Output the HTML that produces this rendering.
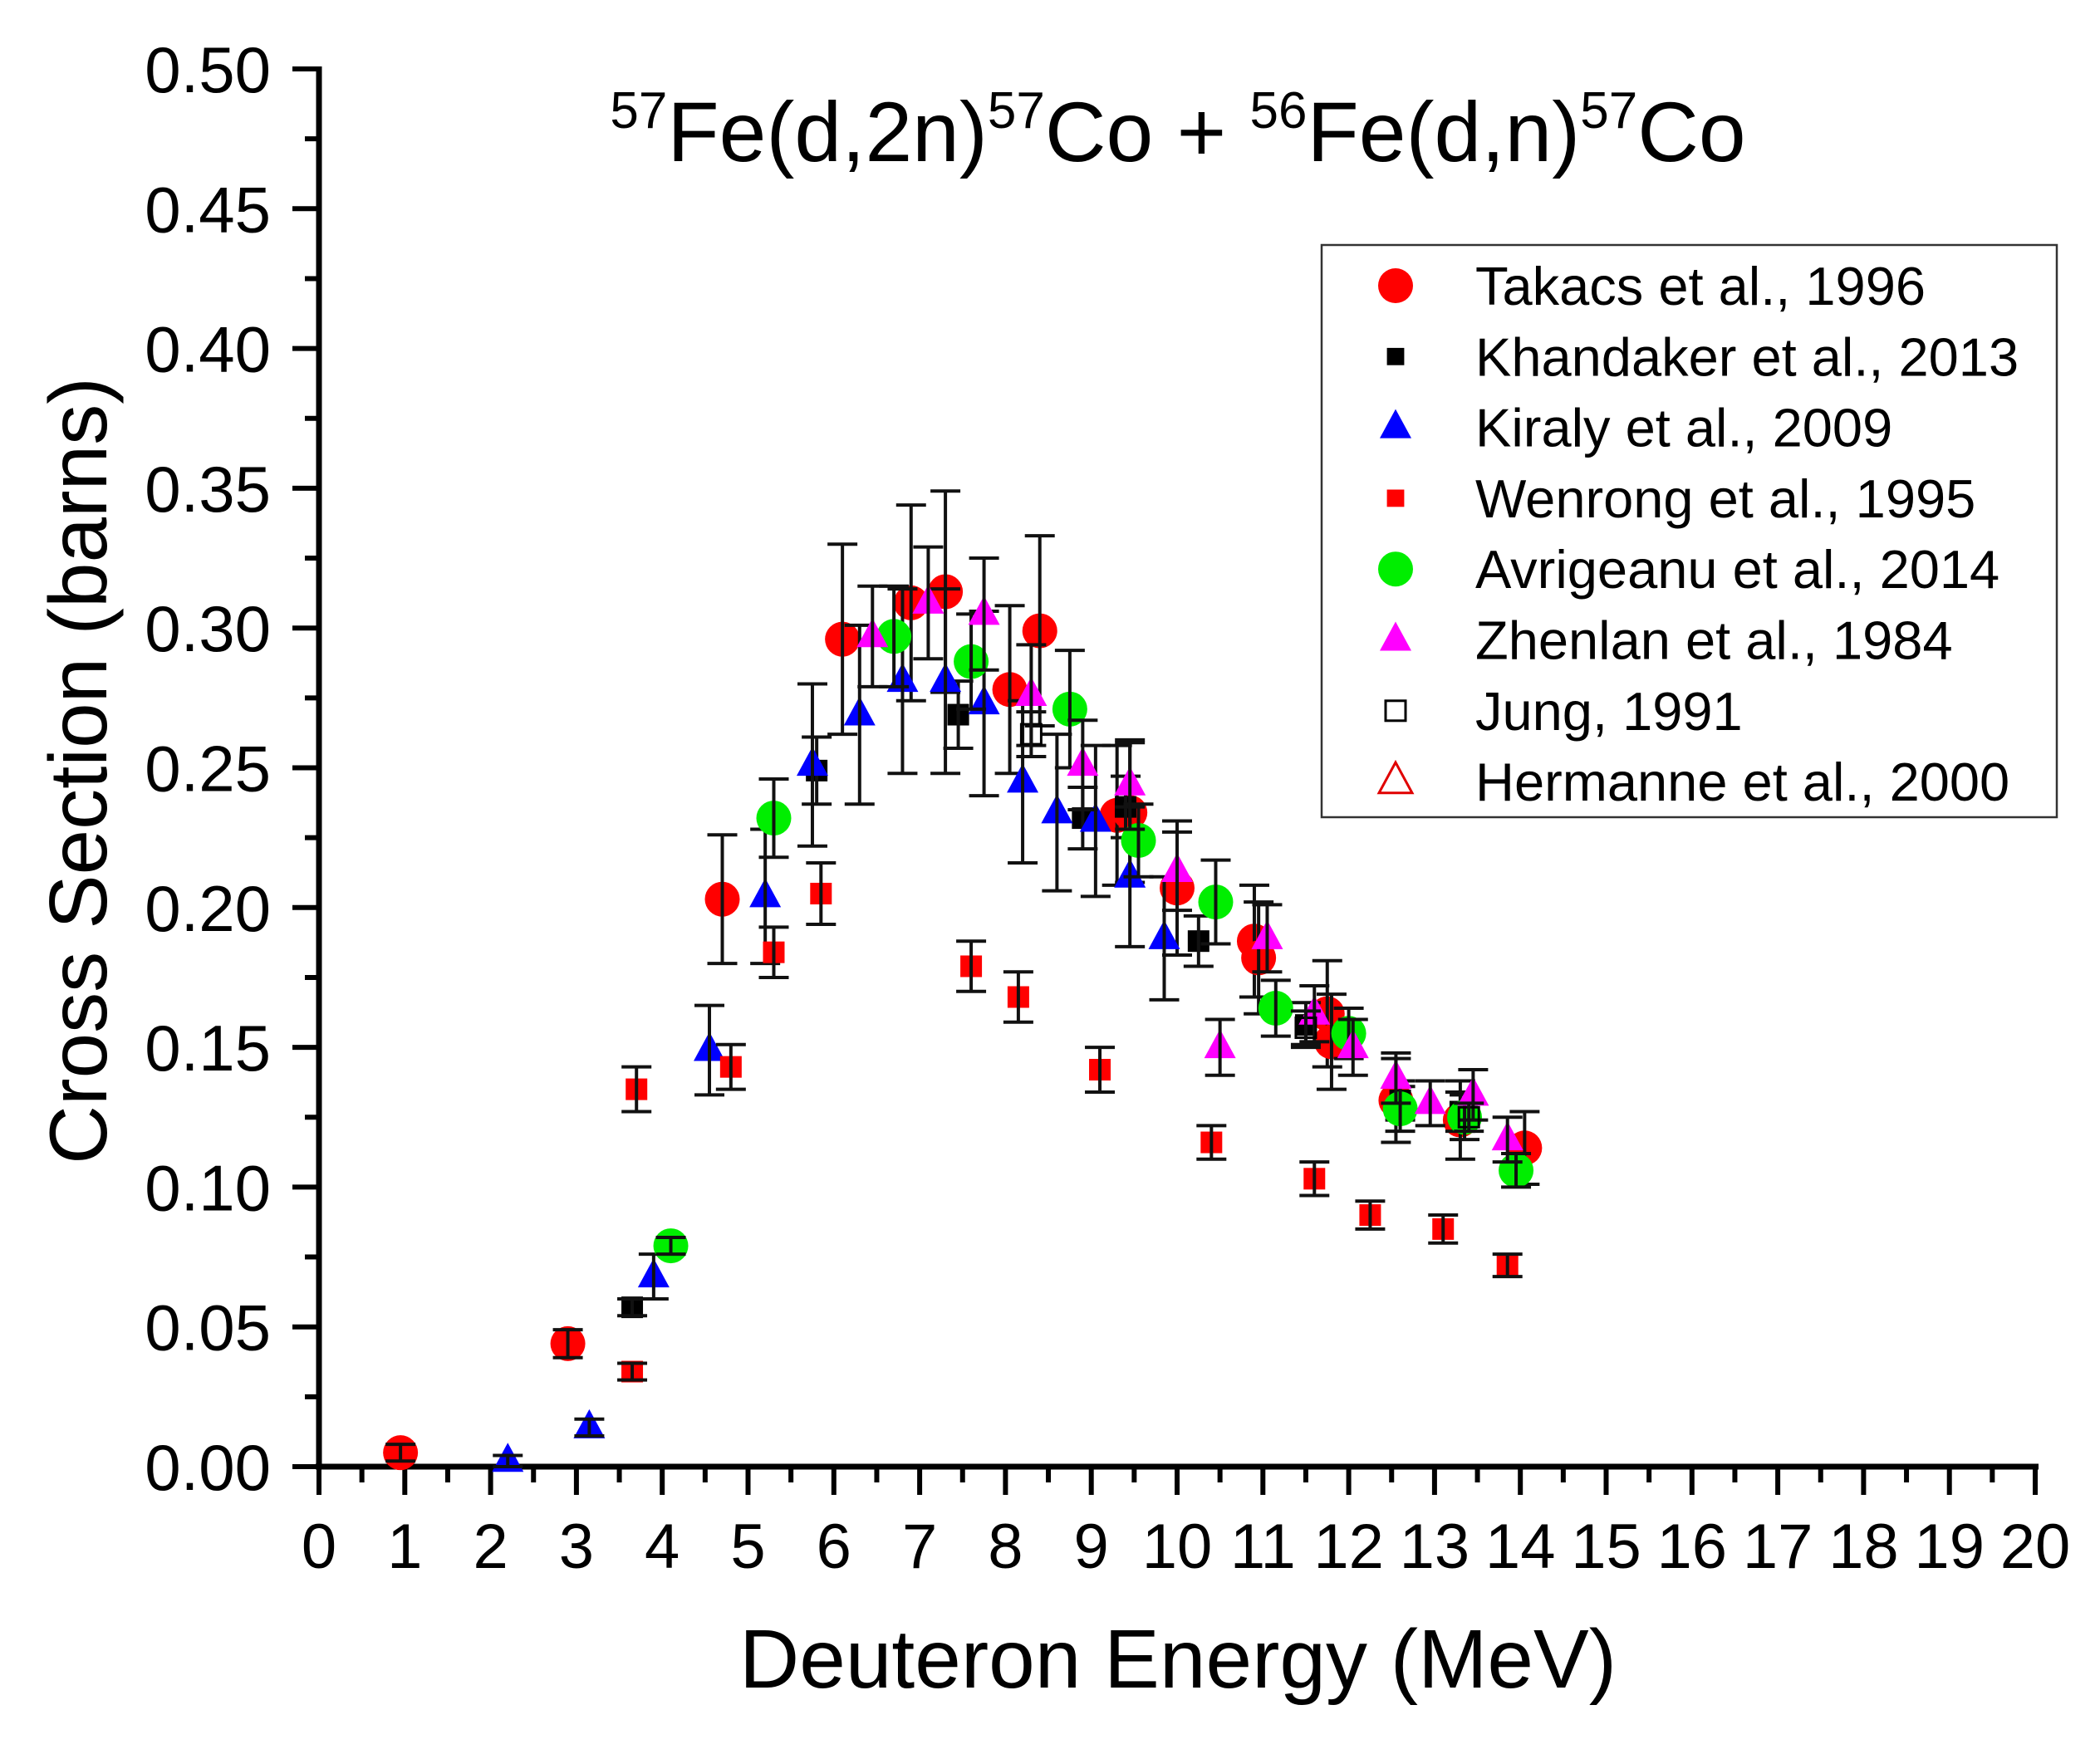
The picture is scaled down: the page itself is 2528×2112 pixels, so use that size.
<!DOCTYPE html>
<html><head><meta charset="utf-8"><style>
html,body{margin:0;padding:0;background:#fff;}
svg{display:block;font-family:"Liberation Sans",Arial,sans-serif;}
</style></head><body>
<svg id="chart" width="2528" height="2112" viewBox="0 0 2528 2112" xmlns="http://www.w3.org/2000/svg">
<text x="1418" y="194" font-size="102" text-anchor="middle"><tspan font-size="62" dy="-40">57</tspan><tspan dy="40">Fe(d,2n)</tspan><tspan font-size="62" dy="-40">57</tspan><tspan dy="40">Co + </tspan><tspan font-size="62" dy="-40">56</tspan><tspan dy="40">Fe(d,n)</tspan><tspan font-size="62" dy="-40">57</tspan><tspan dy="40">Co</tspan></text>
<text x="1418" y="2032" font-size="100" text-anchor="middle">Deuteron Energy (MeV)</text>
<text transform="translate(128,928) rotate(-90)" font-size="98" text-anchor="middle">Cross Section (barns)</text>
<g id="axes"></g>
<g id="marks"></g>
<g id="legend"></g>
</svg>
<script>
const xTicks=[0,1,2,3,4,5,6,7,8,9,10,11,12,13,14,15,16,17,18,19,20];
const yTicks=["0.00","0.05","0.10","0.15","0.20","0.25","0.30","0.35","0.40","0.45","0.50"];
const takacsX=[0.95,2.9,4.7,6.1,6.9,7.3,8.05,8.4,9.3,9.45,10.0,10.9,10.95,11.75,11.8,12.55,13.3,14.05];
const takacsY=[0.005,0.044,0.203,0.296,0.309,0.313,0.278,0.299,0.233,0.234,0.207,0.188,0.182,0.162,0.152,0.131,0.124,0.114];
const takacsE=[0.003,0.005,0.023,0.034,0.035,0.036,0.03,0.034,0.025,0.025,0.024,0.02,0.02,0.019,0.017,0.015,0.014,0.013];
const khanX=[3.65,5.8,7.45,8.9,9.4,10.25,11.5,12.6,13.3];
const khanY=[0.057,0.249,0.269,0.232,0.236,0.188,0.158,0.131,0.127];
const khanE=[0.003,0.012,0.012,0.011,0.011,0.009,0.008,0.007,0.007];
const kiralyX=[2.2,3.15,3.9,4.55,5.2,5.75,6.3,6.8,7.3,7.75,8.2,8.6,9.05,9.45,9.85];
const kiralyY=[0.002,0.014,0.068,0.149,0.204,0.251,0.269,0.281,0.281,0.273,0.245,0.234,0.231,0.211,0.189];
const kiralyE=[0.002,0.003,0.008,0.016,0.024,0.029,0.032,0.033,0.033,0.033,0.029,0.028,0.027,0.025,0.022];
const wenX=[3.65,3.7,4.8,5.3,5.85,7.6,8.15,9.1,10.4,11.6,12.25,13.1,13.85];
const wenY=[0.034,0.135,0.143,0.184,0.205,0.179,0.168,0.142,0.116,0.103,0.090,0.085,0.072];
const wenE=[0.003,0.008,0.008,0.009,0.011,0.009,0.009,0.008,0.006,0.006,0.005,0.005,0.004];
const avrX=[4.1,5.3,6.7,7.6,8.75,9.55,10.45,11.15,12.0,12.6,13.35,13.95];
const avrY=[0.079,0.232,0.297,0.288,0.271,0.224,0.202,0.164,0.155,0.128,0.125,0.106];
const avrE=[0.003,0.014,0.018,0.017,0.021,0.013,0.015,0.01,0.009,0.008,0.008,0.006];
const zhenX=[6.45,7.1,7.75,8.3,8.9,9.45,10.0,10.5,11.05,11.6,12.05,12.55,12.95,13.45,13.85];
const zhenY=[0.297,0.309,0.305,0.276,0.251,0.244,0.213,0.150,0.189,0.162,0.150,0.139,0.130,0.133,0.117];
const zhenE=[0.018,0.02,0.02,0.018,0.016,0.016,0.014,0.01,0.012,0.01,0.01,0.009,0.008,0.009,0.008];
const jungX=[8.3,11.5,13.4];
const jungY=[0.262,0.157,0.125];
const jungE=[0.008,0.006,0.005];
const legendNames=["Takacs et al., 1996","Khandaker et al., 2013","Kiraly et al., 2009","Wenrong et al., 1995","Avrigeanu et al., 2014","Zhenlan et al., 1984","Jung, 1991","Hermanne et al., 2000"];

const NS="http://www.w3.org/2000/svg";
const X0=384,X1=2450,Y0=1766,Y1=83;
const sx=v=>X0+(v-0)/20*(X1-X0);
const sy=v=>Y0-(v-0)/0.5*(Y0-Y1);
function mk(tag,attrs,parent){const e=document.createElementNS(NS,tag);for(const k in attrs)e.setAttribute(k,attrs[k]);parent.appendChild(e);return e;}
const axes=document.getElementById('axes');
let e;
e=mk('line',{x1:X0-4,y1:Y0,x2:X1+4,y2:Y0,stroke:'#000','stroke-width':7},axes);


e=mk('line',{x1:X0,y1:Y0+3,x2:X0,y2:Y1-3,stroke:'#000','stroke-width':7},axes);


xTicks.forEach((t,i)=>{
  mk('line',{x1:sx(t),y1:Y0,x2:sx(t),y2:Y0+34,stroke:'#000','stroke-width':6},axes);
  if(i<xTicks.length-1) mk('line',{x1:sx(t+0.5),y1:Y0,x2:sx(t+0.5),y2:Y0+19,stroke:'#000','stroke-width':6},axes);
  const tx=mk('text',{x:sx(t),y:1888,'font-size':76,'text-anchor':'middle'},axes);
  tx.textContent=t;
  
  
});
yTicks.forEach((t,i)=>{
  const v=parseFloat(t);
  mk('line',{x1:X0,y1:sy(v),x2:X0-32,y2:sy(v),stroke:'#000','stroke-width':6},axes);
  if(i<yTicks.length-1) mk('line',{x1:X0,y1:sy(v+0.025),x2:X0-17,y2:sy(v+0.025),stroke:'#000','stroke-width':6},axes);
  const tx=mk('text',{x:326,y:sy(v)+28,'font-size':78,'text-anchor':'end'},axes);
  tx.textContent=t;
  
  
});
function marker(type,color,cx,cy,parent,s){
  s=s||1;
  if(type==='circle') return mk('circle',{cx:cx,cy:cy,r:21*s,fill:color},parent);
  if(type==='square') return mk('rect',{x:cx-13*s,y:cy-13*s,width:26*s,height:26*s,fill:color},parent);
  if(type==='osquare') return mk('rect',{x:cx-12*s,y:cy-12*s,width:24*s,height:24*s,fill:'none',stroke:color,'stroke-width':3},parent);
  if(type==='tri') return mk('polygon',{points:`${cx},${cy-22*s} ${cx-19*s},${cy+13*s} ${cx+19*s},${cy+13*s}`,fill:color},parent);
  if(type==='otri') return mk('polygon',{points:`${cx},${cy-22*s} ${cx-19*s},${cy+13*s} ${cx+19*s},${cy+13*s}`,fill:'none',stroke:color,'stroke-width':3},parent);
}
const marks=document.getElementById('marks');
const series=[
 ['takacs',takacsX,takacsY,takacsE,'circle','#ff0000'],
 ['khandaker',khanX,khanY,khanE,'square','#000000'],
 ['kiraly',kiralyX,kiralyY,kiralyE,'tri','#0000ff'],
 ['wenrong',wenX,wenY,wenE,'square','#ff0000'],
 ['avrigeanu',avrX,avrY,avrE,'circle','#00ee00'],
 ['zhenlan',zhenX,zhenY,zhenE,'tri','#ff00ff'],
 ['jung',jungX,jungY,jungE,'osquare','#000000']
];
series.forEach(([nm,xs,ys,es,type,col])=>{
  const g=mk('g',{},marks);
  
  
  xs.forEach((xv,i)=>{
    const cx=sx(xv),cy=sy(ys[i]);
    const m=marker(type,col,cx,cy,g);
    
    
    const t=sy(ys[i]+es[i]),b=sy(ys[i]-es[i]);
    mk('line',{x1:cx,y1:t,x2:cx,y2:b,stroke:'#111','stroke-width':4},g);
    mk('line',{x1:cx-18,y1:t,x2:cx+18,y2:t,stroke:'#111','stroke-width':4},g);
    mk('line',{x1:cx-18,y1:b,x2:cx+18,y2:b,stroke:'#111','stroke-width':4},g);
  });
});
const lg=document.getElementById('legend');
mk('rect',{x:1591,y:295,width:885,height:689,fill:'#fff',stroke:'#333','stroke-width':2.5},lg);
const ltypes=['circle','square','tri','square','circle','tri','osquare','otri'];
const lcols=['#ff0000','#000000','#0000ff','#ff0000','#00ee00','#ff00ff','#000000','#e00000'];
const lscale=[1,0.8,1,0.8,1,1,1,1.05];
legendNames.forEach((n,i)=>{
  const y=344+i*85.3;
  const m=marker(ltypes[i],lcols[i],1680,y,lg,lscale[i]);
  
  
  const t=mk('text',{x:1776,y:y+23,'font-size':65},lg);
  t.textContent=n;
  
  
});
</script>
</body></html>
